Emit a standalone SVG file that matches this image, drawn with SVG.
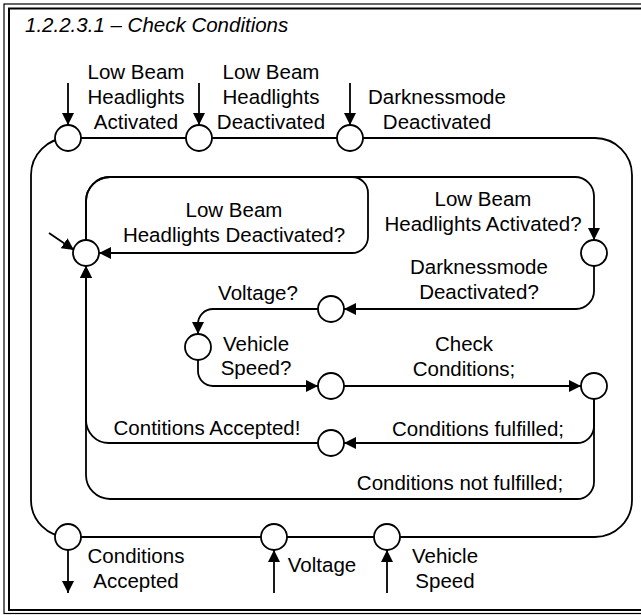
<svg xmlns="http://www.w3.org/2000/svg" width="641" height="615" viewBox="0 0 641 615">
<style>
.ln{fill:none;stroke:#000;stroke-width:1.8}
.st{fill:#fff;stroke:#000;stroke-width:1.8}
text{font-family:"Liberation Sans",Arial,sans-serif;font-size:20.5px;fill:#000}
.m{text-anchor:middle}
.fr1{fill:none;stroke:#000;stroke-width:1.2}
.fr2{fill:none;stroke:#000;stroke-width:2}
</style>
<defs>
<marker id="ah" markerUnits="userSpaceOnUse" markerWidth="13" markerHeight="12" refX="12" refY="6" orient="auto">
<path d="M0,0 L12,6 L0,12 z" fill="#000"/>
</marker>
</defs>
<rect width="641" height="615" fill="#fff"/>
<g id="frame">
<rect class="fr1" x="4" y="4" width="700" height="609.5"/>
<rect class="fr2" x="9" y="8.5" width="700" height="601.5"/>
</g>
<text x="25" y="32" font-style="italic">1.2.2.3.1 – Check Conditions</text>
<g id="connectors">
<rect class="ln" x="31" y="138" width="601" height="399" rx="37" ry="37"/>
<path class="ln" marker-end="url(#ah)" d="M68,83 V125"/>
<path class="ln" marker-end="url(#ah)" d="M199,83 V125"/>
<path class="ln" marker-end="url(#ah)" d="M350,83 V125"/>
<path class="ln" marker-end="url(#ah)" d="M68,550 V593"/>
<path class="ln" marker-end="url(#ah)" d="M274,593 V550"/>
<path class="ln" marker-end="url(#ah)" d="M387,593 V550"/>
<path class="ln" marker-end="url(#ah)" d="M86,240 V201 A24,24 0 0 1 110,177 H352 A16,16 0 0 1 368,193 V237 A16,16 0 0 1 352,253 H99"/>
<path class="ln" marker-end="url(#ah)" d="M86,240 V201 A24,24 0 0 1 110,177 H575 A19,19 0 0 1 594,196 V240"/>
<path class="ln" marker-end="url(#ah)" d="M594,266 V291 A18,18 0 0 1 576,309 H344"/>
<path class="ln" marker-end="url(#ah)" d="M318,309 H213 A15,15 0 0 0 198,324 V334"/>
<path class="ln" marker-end="url(#ah)" d="M198,360 V371 A15,15 0 0 0 213,386 H318"/>
<path class="ln" marker-end="url(#ah)" d="M344,386 H581"/>
<path class="ln" marker-end="url(#ah)" d="M594,399 V426 A17,17 0 0 1 577,443 H344"/>
<path class="ln" marker-end="url(#ah)" d="M594,399 V482 A17,17 0 0 1 577,499 H110 A24,24 0 0 1 86,475 V266"/>
<path class="ln" marker-end="url(#ah)" d="M318,443 H109 A23,23 0 0 1 86,420 V266"/>
<path class="ln" marker-end="url(#ah)" d="M49,233 L74,250"/>
</g>
<g id="labels">
<text class="m" x="136" y="79">Low Beam</text>
<text class="m" x="136" y="104">Headlights</text>
<text class="m" x="136" y="129">Activated</text>
<text class="m" x="271" y="79">Low Beam</text>
<text class="m" x="271" y="104">Headlights</text>
<text class="m" x="271" y="129">Deactivated</text>
<text class="m" x="437" y="104">Darknessmode</text>
<text class="m" x="437" y="129">Deactivated</text>
<text class="m" x="234" y="217">Low Beam</text>
<text class="m" x="234" y="242">Headlights Deactivated?</text>
<text class="m" x="483" y="206">Low Beam</text>
<text class="m" x="483" y="231">Headlights Activated?</text>
<text class="m" x="479" y="274">Darknessmode</text>
<text class="m" x="479" y="299">Deactivated?</text>
<text class="m" x="258" y="300">Voltage?</text>
<text class="m" x="256" y="351">Vehicle</text>
<text class="m" x="256" y="375">Speed?</text>
<text class="m" x="464" y="351">Check</text>
<text class="m" x="464" y="376">Conditions;</text>
<text class="m" x="207" y="435">Contitions Accepted!</text>
<text class="m" x="478" y="436">Conditions fulfilled;</text>
<text class="m" x="460" y="490">Conditions not fulfilled;</text>
<text class="m" x="136" y="563">Conditions</text>
<text class="m" x="136" y="588">Accepted</text>
<text class="m" x="322" y="572">Voltage</text>
<text class="m" x="445" y="563">Vehicle</text>
<text class="m" x="445" y="588">Speed</text>
</g>
<g id="n_top1"><circle class="st" cx="68" cy="138" r="13"/></g>
<g id="n_top2"><circle class="st" cx="199" cy="138" r="13"/></g>
<g id="n_top3"><circle class="st" cx="350" cy="138" r="13"/></g>
<g id="n_bot1"><circle class="st" cx="68" cy="537" r="13"/></g>
<g id="n_bot2"><circle class="st" cx="274" cy="537" r="13"/></g>
<g id="n_bot3"><circle class="st" cx="387" cy="537" r="13"/></g>
<g id="n_idle"><circle class="st" cx="86" cy="253" r="13"/></g>
<g id="n_act"><circle class="st" cx="594" cy="253" r="13"/></g>
<g id="n_volt"><circle class="st" cx="331" cy="309" r="13"/></g>
<g id="n_speed"><circle class="st" cx="198" cy="347" r="13"/></g>
<g id="n_check"><circle class="st" cx="331" cy="386" r="13"/></g>
<g id="n_result"><circle class="st" cx="594" cy="386" r="13"/></g>
<g id="n_acc"><circle class="st" cx="331" cy="443" r="13"/></g>
</svg>
